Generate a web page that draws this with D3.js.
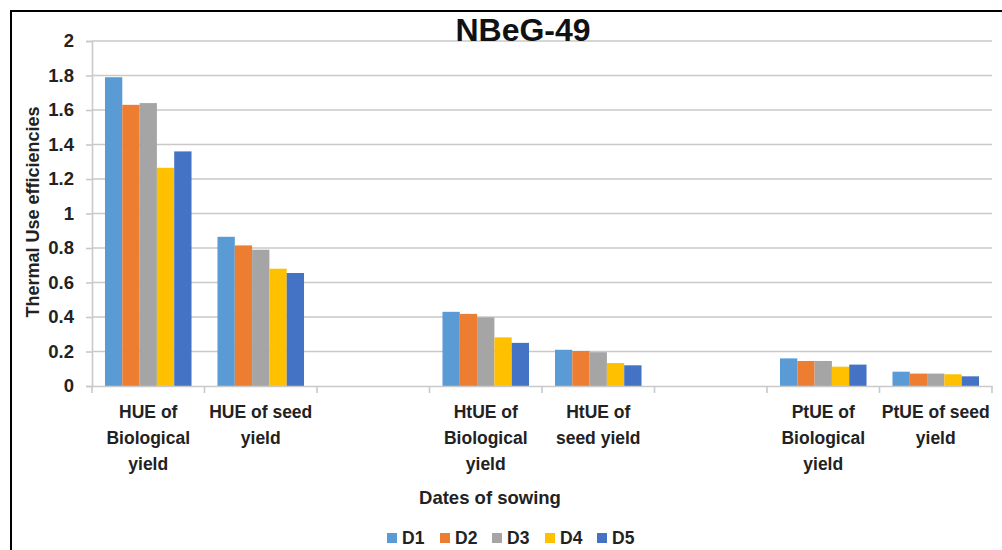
<!DOCTYPE html>
<html><head><meta charset="utf-8">
<script src="https://cdn.jsdelivr.net/npm/d3@7"></script>
<style>body{margin:0;background:#fff}svg{display:block}</style>
</head><body>
<svg id="c" width="1002" height="550"></svg>
<script>
const categories = [
  ["HUE of","Biological","yield"],
  ["HUE of seed","yield"],
  [],
  ["HtUE of","Biological","yield"],
  ["HtUE of","seed yield"],
  [],
  ["PtUE of","Biological","yield"],
  ["PtUE of seed","yield"]
];
const catKeys = ["c1","c2","c3","c4","c5","c6","c7","c8"];
const seriesNames = ["D1","D2","D3","D4","D5"];
const colors = ["#5B9BD5","#ED7D31","#A5A5A5","#FFC000","#4472C4"];
const D1 = [1.79, 0.865, null, 0.43, 0.21, null, 0.16, 0.083];
const D2 = [1.63, 0.815, null, 0.418, 0.203, null, 0.145, 0.072];
const D3 = [1.64, 0.79, null, 0.398, 0.196, null, 0.145, 0.072];
const D4 = [1.265, 0.68, null, 0.282, 0.133, null, 0.112, 0.068];
const D5 = [1.36, 0.655, null, 0.25, 0.12, null, 0.124, 0.056];
const yTicks = [0,0.2,0.4,0.6,0.8,1,1.2,1.4,1.6,1.8,2];
const yTickLabels = ["0","0.2","0.4","0.6","0.8","1","1.2","1.4","1.6","1.8","2"];
const title = "NBeG-49";
const xTitle = "Dates of sowing";
const yTitle = "Thermal  Use  efficiencies";

const series = [D1,D2,D3,D4,D5];
const svg = d3.select("#c");
const font = "'Liberation Sans', Arial, sans-serif";

// outer border
svg.append("rect").attr("x",11).attr("y",11).attr("width",1100).attr("height",600)
  .attr("fill","none").attr("stroke","#000").attr("stroke-width",2);

const x0 = d3.scaleBand().domain(catKeys).range([92, 992]).paddingInner(0).paddingOuter(0);
const x1 = d3.scaleBand().domain(seriesNames).range([0, x0.bandwidth()]).paddingOuter(0.75).paddingInner(0);
const y = d3.scaleLinear().domain([0,2]).range([386, 41]);

// gridlines
svg.append("g").selectAll("line").data(yTicks.slice(1)).join("line")
  .attr("x1",92).attr("x2",992).attr("y1",d=>y(d)).attr("y2",d=>y(d))
  .attr("stroke","#c9c9c9").attr("stroke-width",1.6);

// y axis
const ya = svg.append("g").attr("transform","translate(92,0)")
  .call(d3.axisLeft(y).tickValues(yTicks).tickFormat((d,i)=>yTickLabels[i]).tickSize(6).tickPadding(12));
ya.select(".domain").attr("stroke","#c9c9c9").attr("stroke-width",1.6);
ya.selectAll(".tick line").attr("stroke","#c9c9c9").attr("stroke-width",1.6);
ya.selectAll(".tick text").attr("font-family",font).attr("font-weight","bold").attr("font-size",18.5).attr("fill","#222");

// bars
const g = svg.append("g");
catKeys.forEach((k,ci)=>{
  series.forEach((s,si)=>{
    if (s[ci]==null) return;
    g.append("rect")
      .attr("x", x0(k)+x1(seriesNames[si]))
      .attr("width", x1.bandwidth())
      .attr("y", y(s[ci]))
      .attr("height", y(0)-y(s[ci]))
      .attr("fill", colors[si]);
  });
});

// x axis
const xa = svg.append("g").attr("transform","translate(0,386)")
  .call(d3.axisBottom(x0).tickValues([]).tickSizeOuter(0));
xa.select(".domain").attr("stroke","#c9c9c9").attr("stroke-width",1.6);
const tickPos = catKeys.map(k=>x0(k)).concat([992]);
svg.append("g").selectAll("line").data(tickPos).join("line")
  .attr("x1",d=>d).attr("x2",d=>d).attr("y1",386).attr("y2",393)
  .attr("stroke","#c9c9c9").attr("stroke-width",1.6);

// category labels
catKeys.forEach((k,ci)=>{
  const t = svg.append("text").attr("x", x0(k)+x0.bandwidth()/2).attr("y",418)
    .attr("text-anchor","middle").attr("font-family",font).attr("font-weight","bold")
    .attr("font-size",17.5).attr("fill","#222");
  categories[ci].forEach((line,li)=>{
    t.append("tspan").attr("x", x0(k)+x0.bandwidth()/2).attr("dy", li===0?0:26).text(line);
  });
});

// title
svg.append("text").attr("x",523).attr("y",41).attr("text-anchor","middle")
  .attr("font-family",font).attr("font-weight","bold").attr("font-size",32).attr("fill","#111").text(title);

// axis titles
svg.append("text").attr("x",490).attr("y",504).attr("text-anchor","middle")
  .attr("font-family",font).attr("font-weight","bold").attr("font-size",18.5).attr("fill","#222").text(xTitle);
svg.append("text").attr("transform","translate(39,212) rotate(-90)").attr("text-anchor","middle")
  .attr("font-family",font).attr("font-weight","bold").attr("font-size",18).attr("fill","#222").text(yTitle);

// legend
const legX = [387, 440, 492, 545, 597];
const lg = svg.append("g");
seriesNames.forEach((n,i)=>{
  lg.append("rect").attr("x",legX[i]).attr("y",533).attr("width",10).attr("height",10).attr("fill",colors[i]);
  lg.append("text").attr("x",legX[i]+15).attr("y",544).attr("font-family",font).attr("font-weight","bold")
    .attr("font-size",17.5).attr("fill","#222").text(n);
});
</script>
</body></html>
